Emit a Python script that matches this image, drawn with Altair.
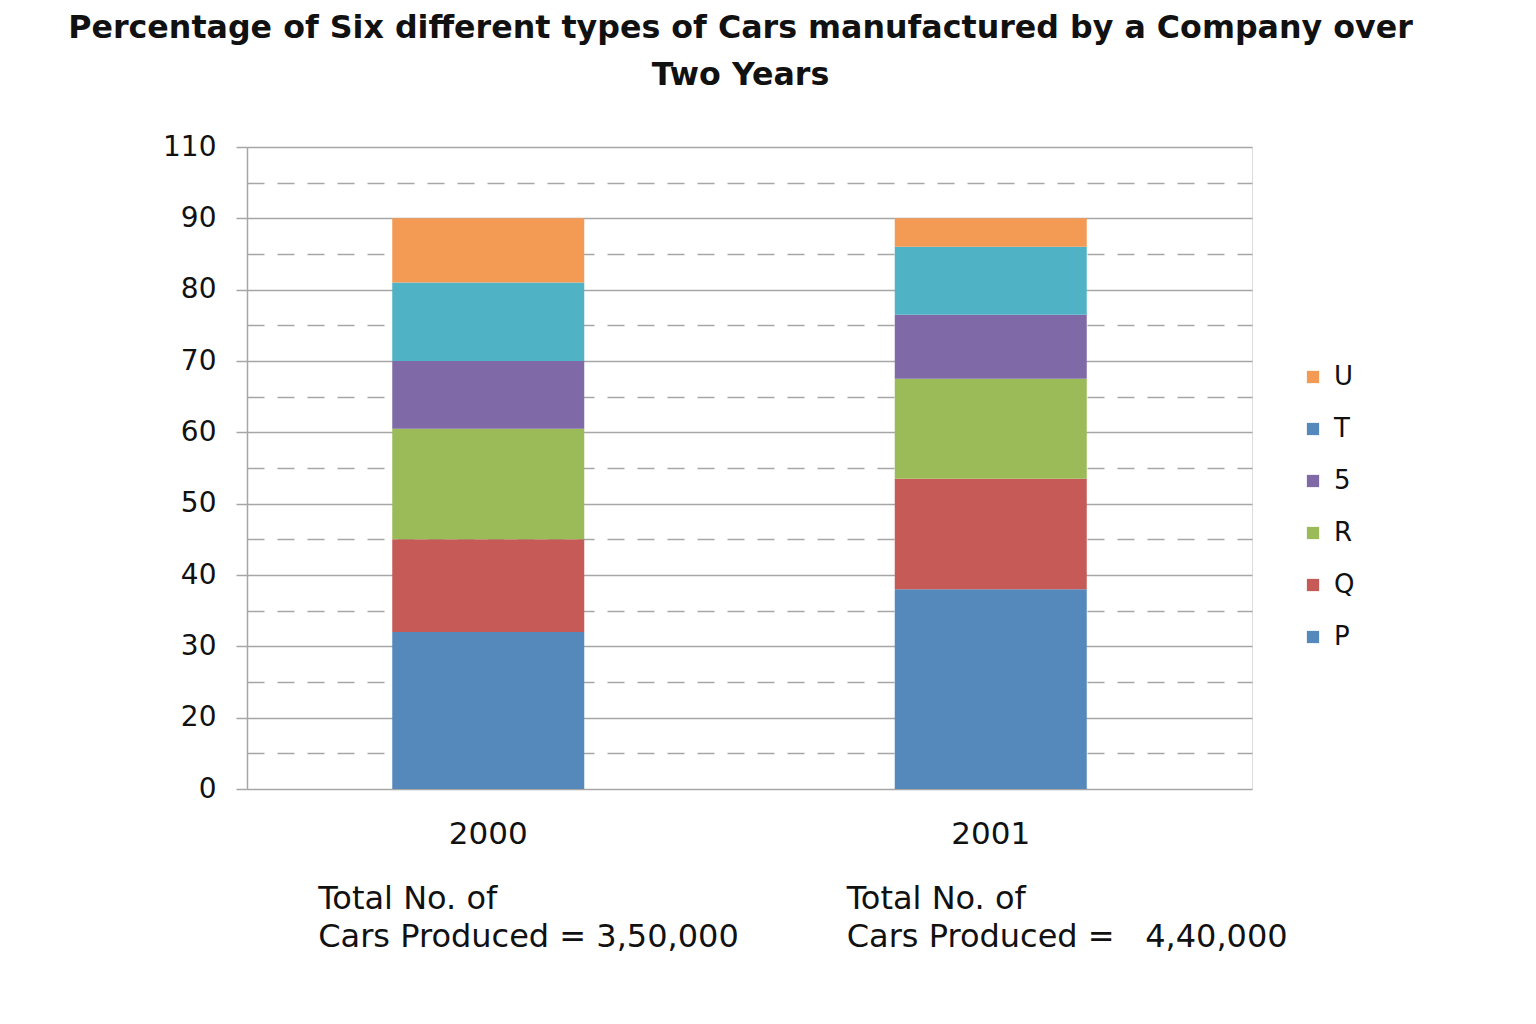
import altair as alt
import pandas as pd

# ---- data ----
years = ["2000", "2001"]
car_types = ["P", "Q", "R", "S", "T", "U"]
pct_2000 = [32, 13, 15.5, 9.5, 11, 9]
pct_2001 = [38, 15.5, 14, 9, 9.5, 4]
bar_colors = ["#5588BB", "#C55A56", "#9BBB59", "#7F6AA7", "#4FB3C5", "#F39A54"]

legend_labels = ["U", "T", "5", "R", "Q", "P"]
legend_colors = ["#F39A54", "#5588BB", "#7F6AA7", "#9BBB59", "#C55A56", "#5588BB"]

y_tick_positions = [10, 20, 30, 40, 50, 60, 70, 80, 90, 100]
y_tick_labels = ["0", "20", "30", "40", "50", "60", "70", "80", "90", "110"]
y_minor_positions = [15, 25, 35, 45, 55, 65, 75, 85, 95]

totals_text = [
    "Total No. of\nCars Produced = 3,50,000",
    "Total No. of\nCars Produced =\u00a0\u00a0 4,40,000",
]

title_lines = [
    "Percentage of Six different types of Cars manufactured by a Company over",
    "Two Years",
]

FONT = "DejaVu Sans"

rows = []
for yr, vals in zip(years, [pct_2000, pct_2001]):
    for i, (t, v) in enumerate(zip(car_types, vals)):
        rows.append({"year": yr, "type": t, "order": i, "pct": v})
df = pd.DataFrame(rows)

legend_df = pd.DataFrame({"label": legend_labels})
totals_df = pd.DataFrame({"year": years, "txt": totals_text})

label_map = "{" + ",".join(f"'{p}':'{l}'" for p, l in zip(y_tick_positions, y_tick_labels)) + "}"
label_expr = f"({label_map})[''+datum.value] || ''"

x_enc = alt.X(
    "year:N",
    scale=alt.Scale(domain=years, paddingInner=0, paddingOuter=0),
    axis=alt.Axis(
        title=None, domain=False, ticks=False, labelAngle=0,
        labelFontSize=31, labelFont=FONT, labelColor="#111111",
        labelPadding=30, labelOffset=-10, grid=False,
    ),
)

minor_test = "datum.value % 10 != 0"
y_axis = alt.Axis(
    title=None,
    values=sorted(y_tick_positions + y_minor_positions),
    labelExpr=label_expr,
    labelFontSize=28, labelFont=FONT, labelColor="#111111",
    labelPadding=20,
    tickSize=11, tickColor="#A6A6A6", tickWidth=1.5,
    tickOpacity={"condition": {"test": minor_test, "value": 0}, "value": 1},
    domainColor="#A6A6A6", domainWidth=1.5,
    grid=True, gridColor="#A6A6A6", gridWidth=1.5,
    gridDash={"condition": {"test": minor_test, "value": [17, 13]}, "value": []},
)

bars = alt.Chart(df).mark_bar(size=192, xOffset=-10, clip=True).encode(
    x=x_enc,
    y=alt.Y("pct:Q", stack="zero",
            scale=alt.Scale(domain=[10, 100], nice=False, zero=False),
            axis=y_axis),
    color=alt.Color("type:N", scale=alt.Scale(domain=car_types, range=bar_colors), legend=None),
    order=alt.Order("order:Q"),
)

legend_layer = alt.Chart(legend_df).mark_square(opacity=0, size=0).encode(
    color=alt.Color(
        "label:N",
        scale=alt.Scale(domain=legend_labels, range=legend_colors),
        legend=alt.Legend(
            title=None, orient="none", legendX=1053, legendY=217,
            symbolType="square", symbolSize=150, symbolOpacity=1, symbolStrokeWidth=0,
            labelFontSize=26, labelFont=FONT, labelColor="#111111",
            labelOffset=8, rowPadding=26,
        ),
    )
)

texts = []
for yr, dx in zip(years, [-180, -154]):
    texts.append(
        alt.Chart(totals_df).transform_filter(alt.datum.year == yr).mark_text(
            align="left", baseline="alphabetic", fontSize=32, font=FONT,
            color="#111111", lineHeight=38, lineBreak="\n", dx=dx,
        ).encode(
            x=alt.X("year:N", scale=alt.Scale(domain=years, paddingInner=0, paddingOuter=0)),
            y=alt.value(762),
            text="txt:N",
        )
    )

chart = alt.layer(bars, legend_layer, *texts).resolve_scale(color="independent").properties(
    width=1005,
    height=642,
    autosize=alt.AutoSizeParams(type="none"),
    padding={"left": 239, "top": 139, "right": 276, "bottom": 227},
    title=alt.TitleParams(
        text=title_lines, fontSize=31.7, font=FONT, fontWeight="bold", color="#111111",
        anchor="middle", dx=-9, offset=41, lineHeight=47,
    ),
).configure_view(stroke=None).configure(background="white")

chart.save("out.html", embed_options={"renderer": "svg", "actions": False})
